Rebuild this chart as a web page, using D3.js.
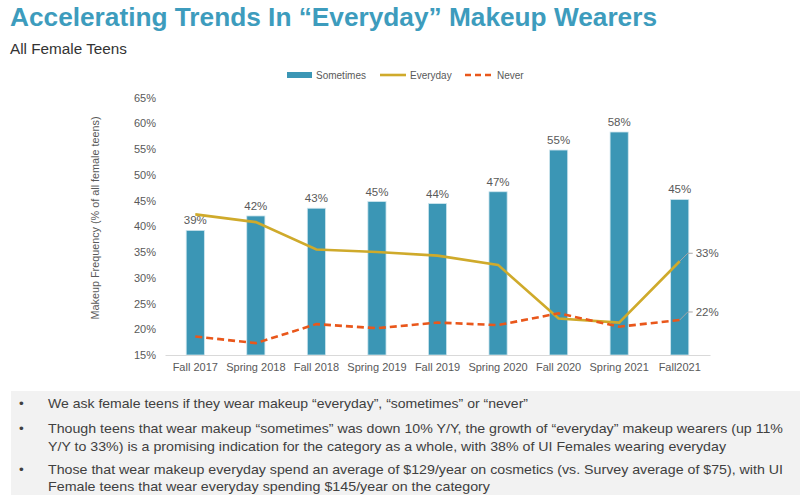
<!DOCTYPE html>
<html><head><meta charset="utf-8">
<script src="https://cdn.jsdelivr.net/npm/d3@7"></script>
<style>
html,body{margin:0;padding:0;background:#fff;}
svg{display:block;font-family:"Liberation Sans",Arial,sans-serif;}
</style></head>
<body>
<svg id="chart" width="800" height="498"></svg>
<script>
const categories = ["Fall 2017","Spring 2018","Fall 2018","Spring 2019","Fall 2019","Spring 2020","Fall 2020","Spring 2021","Fall2021"];
const sometimes = [39.2, 42.0, 43.5, 44.8, 44.4, 46.7, 54.8, 58.3, 45.2];
const sometimesLabels = ["39%","42%","43%","45%","44%","47%","55%","58%","45%"];
const everyday = [42.3, 40.8, 35.5, 35.0, 34.3, 32.5, 22.1, 21.3, 33.2];
const never = [18.6, 17.3, 21.0, 20.2, 21.3, 20.8, 23.1, 20.5, 21.8];
const endLabels = ["33%","22%"];
const yTicks = [15,20,25,30,35,40,45,50,55,60,65];
const bullets = [
  ["We ask female teens if they wear makeup \u201ceveryday\u201d, \u201csometimes\u201d or \u201cnever\u201d"],
  ["Though teens that wear makeup \u201csometimes\u201d was down 10% Y/Y, the growth of \u201ceveryday\u201d makeup wearers (up 11%",
   "Y/Y to 33%) is a promising indication for the category as a whole, with 38% of UI Females wearing everyday"],
  ["Those that wear makeup everyday spend an average of $129/year on cosmetics (vs. Survey average of $75), with UI",
   "Female teens that wear everyday spending $145/year on the category"]
];

const C = {bar:"#3b96b5", yellow:"#cfaa2b", red:"#e9571b", text:"#595959", title:"#3d9cbd"};
const svg = d3.select("#chart");

// Title
svg.append("text").attr("x",10).attr("y",26).attr("font-size",25).attr("font-weight","bold")
  .attr("fill",C.title).attr("textLength",647).attr("lengthAdjust","spacingAndGlyphs")
  .text("Accelerating Trends In \u201cEveryday\u201d Makeup Wearers");
svg.append("text").attr("x",10).attr("y",54).attr("font-size",14).attr("fill","#333")
  .attr("textLength",117).attr("lengthAdjust","spacingAndGlyphs").text("All Female Teens");

// Scales
const x = d3.scaleBand().domain(categories).range([165,710]).paddingInner(0.70).paddingOuter(0.35);
const y = d3.scaleLinear().domain([15,65]).range([355,97.5]);
const cx = d => x(d) + x.bandwidth()/2;

// Y axis
const yAxis = svg.append("g").attr("transform","translate(160,0)")
  .call(d3.axisLeft(y).tickValues(yTicks).tickFormat(d=>d+"%").tickSize(0).tickPadding(4));
yAxis.select(".domain").remove();
yAxis.selectAll("text").attr("font-size",11).attr("fill",C.text).attr("font-family","Liberation Sans, Arial, sans-serif");

svg.append("text").attr("transform","translate(99,218) rotate(-90)").attr("text-anchor","middle")
  .attr("font-size",11.5).attr("fill",C.text)
  .attr("textLength",203).attr("lengthAdjust","spacingAndGlyphs")
  .text("Makeup Frequency (% of all female teens)");

// Bars
svg.append("g").selectAll("rect").data(categories).join("rect")
  .attr("x",d=>x(d)).attr("width",x.bandwidth())
  .attr("y",(d,i)=>y(sometimes[i])).attr("height",(d,i)=>y(15)-y(sometimes[i]))
  .attr("fill",C.bar).attr("stroke","#cfe6ee").attr("stroke-width",0.8);

svg.append("g").selectAll("text").data(categories).join("text")
  .attr("x",d=>cx(d)).attr("y",(d,i)=>y(sometimes[i])-6).attr("text-anchor","middle")
  .attr("font-size",11.5).attr("fill",C.text).text((d,i)=>sometimesLabels[i]);

// X axis
const xAxis = svg.append("g").attr("transform","translate(0,355)")
  .call(d3.axisBottom(x).tickSize(0).tickPadding(8));
xAxis.select(".domain").attr("stroke","#d9d9d9").attr("stroke-width",1.2);
xAxis.selectAll("text").attr("font-size",11).attr("fill",C.text).attr("font-family","Liberation Sans, Arial, sans-serif");

// Lines
const line = d3.line().x((d,i)=>cx(categories[i])).y(d=>y(d));
svg.append("path").datum(everyday).attr("d",line).attr("fill","none")
  .attr("stroke",C.yellow).attr("stroke-width",2.6);
svg.append("path").datum(never).attr("d",line).attr("fill","none")
  .attr("stroke",C.red).attr("stroke-width",2.6).attr("stroke-dasharray","7,4");

// End labels with leaders
const last = categories.length-1;
[[everyday[last], endLabels[0], -8],[never[last], endLabels[1], -8]].forEach(([v,lab,dy])=>{
  const px = cx(categories[last]), py = y(v);
  svg.append("path").attr("d",`M${px},${py} L${px+8},${py+dy} L${px+13},${py+dy}`)
    .attr("fill","none").attr("stroke","#a6a6a6").attr("stroke-width",1);
  svg.append("text").attr("x",px+16).attr("y",py+dy+4).attr("font-size",11.5).attr("fill",C.text).text(lab);
});

// Legend
const lg = svg.append("g").attr("font-size",10).attr("fill",C.text);
lg.append("rect").attr("x",287).attr("y",72).attr("width",25).attr("height",6).attr("fill",C.bar);
lg.append("text").attr("x",316).attr("y",78.5).text("Sometimes");
lg.append("line").attr("x1",380).attr("x2",406).attr("y1",75).attr("y2",75).attr("stroke",C.yellow).attr("stroke-width",2.6);
lg.append("text").attr("x",410).attr("y",78.5).text("Everyday");
lg.append("line").attr("x1",465).attr("x2",491).attr("y1",75).attr("y2",75).attr("stroke",C.red).attr("stroke-width",2.6).attr("stroke-dasharray","6,4");
lg.append("text").attr("x",497).attr("y",78.5).text("Never");

// Notes box
svg.append("rect").attr("x",11).attr("y",391).attr("width",789).attr("height",104).attr("fill","#f2f2f2");
const lineY = [[408],[433,451],[474,491]];
const lineW = [[480],[735,678],[735,442]];
const nb = svg.append("g").attr("font-size",13.5).attr("fill","#404040");
bullets.forEach((b,i)=>{
  nb.append("text").attr("x",19).attr("y",lineY[i][0]).text("\u2022");
  b.forEach((t,j)=>{
    nb.append("text").attr("x",48).attr("y",lineY[i][j])
      .attr("textLength",lineW[i][j]).attr("lengthAdjust","spacingAndGlyphs").text(t);
  });
});
</script>
</body></html>
